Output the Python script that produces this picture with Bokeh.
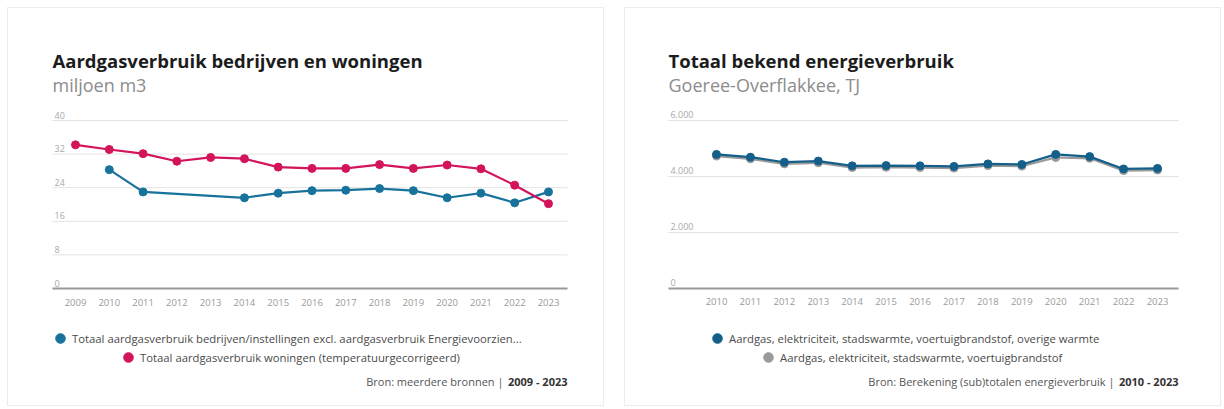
from bokeh.plotting import figure
from bokeh.models import Range1d, FixedTicker, Legend, LegendItem, ColumnDataSource, Label
from bokeh.layouts import row
from bokeh.embed import file_html
from bokeh.resources import INLINE
from bokeh.core.properties import value

FONT = "Open Sans"

# ---------------- data: left chart ----------------
years_woningen = [2009, 2010, 2011, 2012, 2013, 2014, 2015, 2016, 2017, 2018, 2019, 2020, 2021, 2022, 2023]
woningen = [34.2, 33.1, 32.1, 30.3, 31.2, 30.9, 28.9, 28.6, 28.6, 29.5, 28.6, 29.4, 28.5, 24.6, 20.2]
years_bedrijven = [2010, 2011, 2014, 2015, 2016, 2017, 2018, 2019, 2020, 2021, 2022, 2023]
bedrijven = [28.3, 23.0, 21.6, 22.7, 23.3, 23.4, 23.8, 23.3, 21.6, 22.7, 20.4, 23.0]
left_xticks = list(range(2009, 2024))
left_yticks = [0, 8, 16, 24, 32, 40]
left_ylabels = ["0", "8", "16", "24", "32", "40"]

# ---------------- data: right chart ----------------
years_energie = [2010, 2011, 2012, 2013, 2014, 2015, 2016, 2017, 2018, 2019, 2020, 2021, 2022, 2023]
energie_incl = [4790, 4690, 4510, 4550, 4380, 4390, 4380, 4360, 4450, 4430, 4790, 4710, 4270, 4290]
energie_excl = [4730, 4630, 4450, 4490, 4320, 4330, 4320, 4300, 4390, 4370, 4680, 4650, 4210, 4230]
right_xticks = list(range(2010, 2024))
right_yticks = [0, 2000, 4000, 6000]
right_ylabels = ["0", "2.000", "4.000", "6.000"]

BLUE = "#18739c"
PINK = "#d3145b"
DARKBLUE = "#135f8a"
GRAY = "#9a9a9a"

CARD_W, CARD_H = 595, 397


def make_card(title, subtitle, view_x, view_y, plot_x, xticks, yticks, ylabels,
              series, legend_rows, source_text, left_px, right_px):
    # the figure frame is the whole card; the plot area lies inside it
    p = figure(width=CARD_W, height=CARD_H,
               x_range=Range1d(*view_x), y_range=Range1d(*view_y),
               output_backend="svg", toolbar_location=None,
               min_border=0, outline_line_color=None,
               background_fill_color="white", border_fill_color="white",
               styles={"box-shadow": "0 0 0 1px #ececec"})
    p.yaxis.visible = False
    p.ygrid.visible = False
    p.xgrid.visible = False

    x0, x1 = plot_x
    # horizontal grid lines, limited to the plot area
    gsrc = ColumnDataSource(dict(x0=[x0] * len(yticks), x1=[x1] * len(yticks), y=yticks))
    p.segment(x0="x0", y0="y", x1="x1", y1="y", source=gsrc,
              line_color="#e3e3e3", line_width=1)

    ax = p.xaxis[0]
    ax.fixed_location = 0
    ax.bounds = (x0, x1)
    ax.ticker = FixedTicker(ticks=xticks)
    ax.axis_line_color = "#9a9a9a"
    ax.axis_line_width = 2
    ax.major_tick_line_color = None
    ax.minor_tick_line_color = None
    ax.major_label_text_font = FONT
    ax.major_label_text_font_size = "9.5px"
    ax.major_label_text_color = "#9a9a9a"
    ax.major_label_standoff = 4

    # y tick labels above the grid lines
    ysrc = ColumnDataSource(dict(x=[x0] * len(yticks), y=yticks, t=ylabels))
    p.text(x="x", y="y", text="t", source=ysrc, text_font=value(FONT),
           text_font_size="9px", text_color="#a8a8a8", text_align="left",
           text_baseline="bottom", x_offset=2, y_offset=-2)

    renderers = []
    for xs, ys, color in series:
        p.line(xs, ys, line_color=color, line_width=2.2)
        r = p.scatter(xs, ys, size=8, fill_color=color, line_color=color)
        renderers.append(r)

    p.add_layout(Label(x=left_px, y=345, x_units="screen", y_units="screen", text=title,
                       text_font=FONT, text_font_size="18.5px", text_font_style="bold",
                       text_color="#1c1c1c", text_baseline="middle"))
    p.add_layout(Label(x=left_px, y=321, x_units="screen", y_units="screen", text=subtitle,
                       text_font=FONT, text_font_size="18px",
                       text_color="#8c8c8c", text_baseline="middle"))

    for (label, idx, lx, ly) in legend_rows:
        lg = Legend(items=[LegendItem(label=label, renderers=[renderers[idx]])],
                    location=(lx, ly), orientation="horizontal",
                    padding=0, margin=0, spacing=0,
                    glyph_width=24, glyph_height=24, label_height=24,
                    label_standoff=0,
                    border_line_color=None, background_fill_alpha=0,
                    label_text_font=FONT, label_text_font_size="11.3px",
                    label_text_color="#4a4a4a")
        p.add_layout(lg, "center")

    src_plain, src_bold = source_text
    p.add_layout(Label(x=right_px, y=24, x_units="screen", y_units="screen", text=src_bold,
                       text_font=FONT, text_font_size="11px", text_font_style="bold",
                       text_color="#333333", text_baseline="middle", text_align="right"))
    p.add_layout(Label(x=right_px - 64, y=24, x_units="screen", y_units="screen", text=src_plain,
                       text_font=FONT, text_font_size="11px",
                       text_color="#555555", text_baseline="middle", text_align="right"))
    return p


p1 = make_card(
    "Aardgasverbruik bedrijven en woningen", "miljoen m3",
    (2007.017, 2024.628), (-27.857, 66.667), (2008.319, 2023.562),
    left_xticks, left_yticks, left_ylabels,
    [(years_bedrijven, bedrijven, BLUE), (years_woningen, woningen, PINK)],
    [("Totaal aardgasverbruik bedrijven/instellingen excl. aardgasverbruik Energievoorzien...", 0, 40, 55),
     ("Totaal aardgasverbruik woningen (temperatuurgecorrigeerd)", 1, 108, 36)],
    ("Bron: meerdere bronnen |", "2009 - 2023"), 44, 559)

p2 = make_card(
    "Totaal bekend energieverbruik", "Goeree-Overflakkee, TJ",
    (2007.317, 2024.857), (-4178.6, 10000), (2008.585, 2023.619),
    right_xticks, right_yticks, right_ylabels,
    [(years_energie, energie_excl, GRAY), (years_energie, energie_incl, DARKBLUE)],
    [("Aardgas, elektriciteit, stadswarmte, voertuigbrandstof, overige warmte", 1, 80, 55),
     ("Aardgas, elektriciteit, stadswarmte, voertuigbrandstof", 0, 131, 36)],
    ("Bron: Berekening (sub)totalen energieverbruik |", "2010 - 2023"), 43, 553)

layout = row(p1, p2, spacing=22, margin=(8, 0, 0, 8))
open("out.html", "w").write(file_html(layout, INLINE))
